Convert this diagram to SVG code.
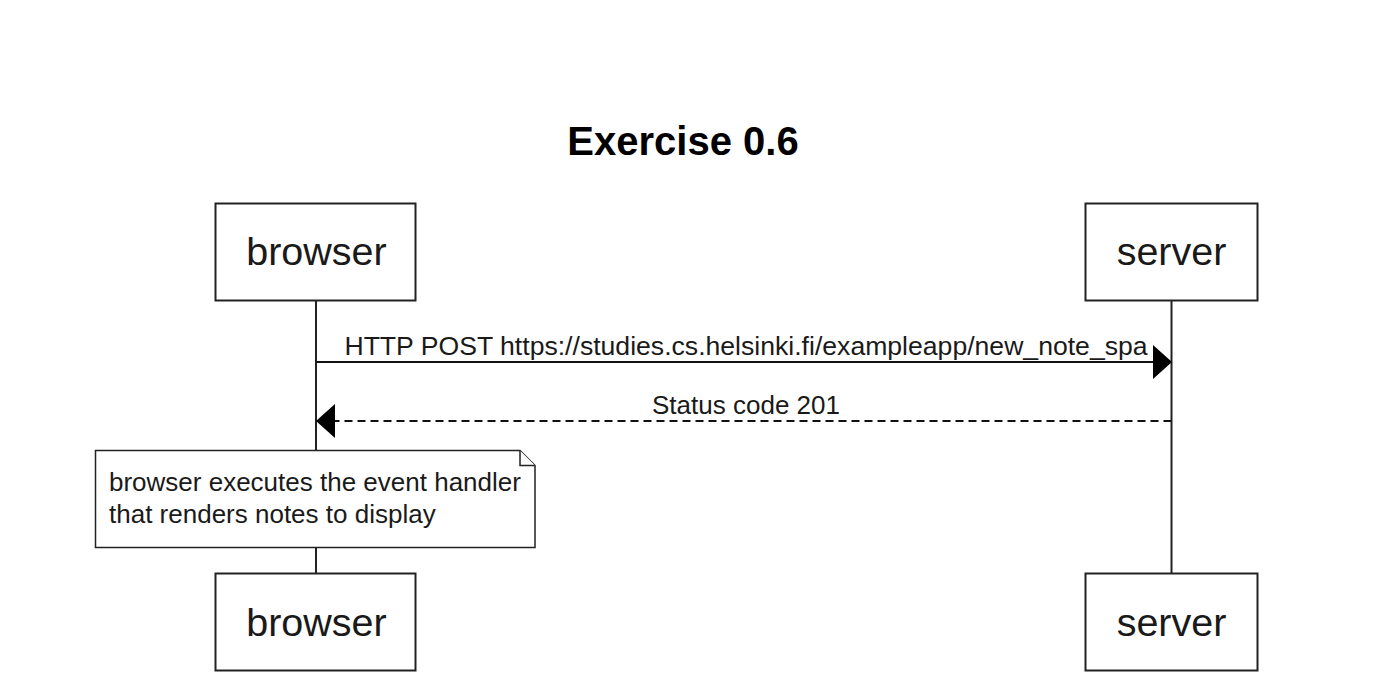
<svg xmlns="http://www.w3.org/2000/svg" width="1380" height="696" viewBox="0 0 1380 696">
<style>
.actor{fill:#fff;stroke:#222;stroke-width:2}
.atext{font-family:"Liberation Sans",Arial,sans-serif;font-size:39.5px;fill:#1a1a1a;text-anchor:middle}
.life{stroke:#222;stroke-width:2;fill:none}
.msg{stroke:#111;stroke-width:2;fill:none}
.dash{stroke-dasharray:8,5}
.mtext{font-family:"Liberation Sans",Arial,sans-serif;font-size:26px;fill:#1a1a1a;text-anchor:middle}
.note{fill:#fff;stroke:#222;stroke-width:1.5}
.ntext{font-family:"Liberation Sans",Arial,sans-serif;font-size:26px;fill:#1a1a1a}
.title{font-family:"Liberation Sans",Arial,sans-serif;font-size:40px;font-weight:bold;fill:#000;text-anchor:middle}
</style>
<rect width="1380" height="696" fill="#fff"/>
<text class="title" x="683" y="155">Exercise 0.6</text>
<g id="lifelines">
<line class="life" x1="316" y1="301" x2="316" y2="573"/>
<line class="life" x1="1171.5" y1="301" x2="1171.5" y2="573"/>
</g>
<g id="browser-top"><rect class="actor" x="215.5" y="203.5" width="200" height="97"/><text class="atext" x="316.5" y="265">browser</text></g>
<g id="server-top"><rect class="actor" x="1085.5" y="203.5" width="172" height="97"/><text class="atext" x="1171.5" y="265">server</text></g>
<g id="browser-bottom"><rect class="actor" x="215.5" y="573.5" width="200" height="97"/><text class="atext" x="316.5" y="636">browser</text></g>
<g id="server-bottom"><rect class="actor" x="1085.5" y="573.5" width="172" height="97"/><text class="atext" x="1171.5" y="636">server</text></g>
<g id="connectors">
<line class="msg" x1="316" y1="362" x2="1155" y2="362"/>
<polygon points="1153,345 1172,362 1153,379" fill="#000"/>
<text class="mtext" x="746" y="355" style="font-size:26.6px">HTTP POST https://studies.cs.helsinki.fi/exampleapp/new_note_spa</text>
<line class="msg dash" x1="1171.5" y1="421" x2="333" y2="421"/>
<polygon points="335,404 316,421 335,438" fill="#000"/>
<text class="mtext" x="746" y="414">Status code 201</text>
</g>
<g id="note">
<path class="note" d="M95.5,450.5 H520 L535,465.5 V547.5 H95.5 Z"/>
<path class="note" d="M520,450.5 V465.5 H535" fill="none"/>
<text class="ntext" x="109" y="491">browser executes the event handler</text>
<text class="ntext" x="109" y="523">that renders notes to display</text>
</g>
</svg>
